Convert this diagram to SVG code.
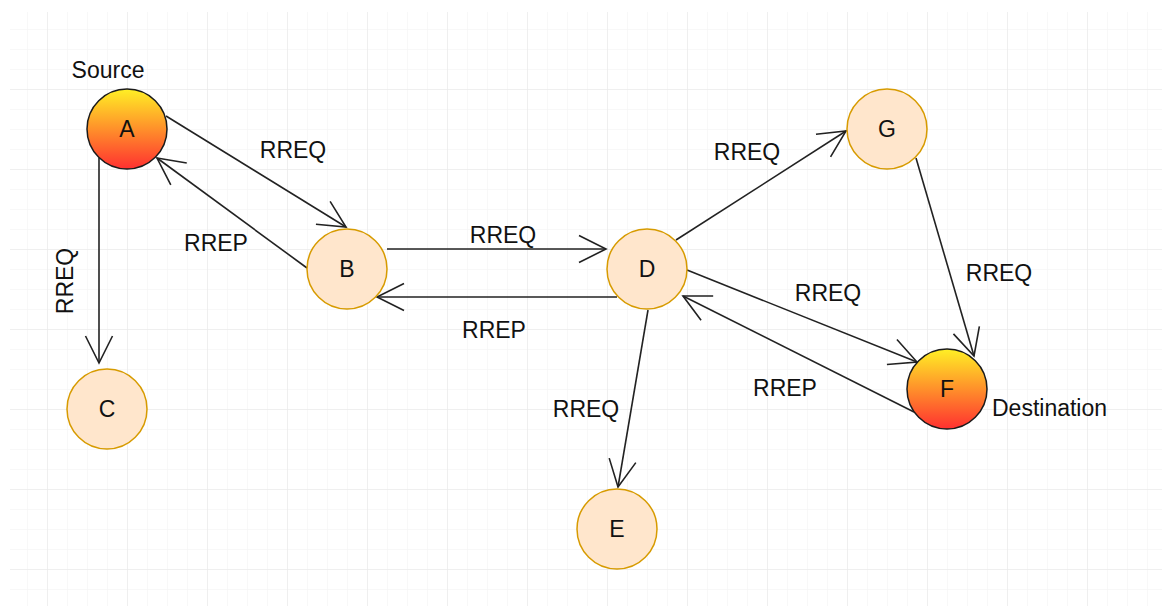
<svg xmlns="http://www.w3.org/2000/svg" width="1171" height="614" viewBox="0 0 1171 614">
  <defs>
    <pattern id="minor" x="7" y="9" width="20" height="20" patternUnits="userSpaceOnUse">
      <path d="M0,0 H20 M0,0 V20" fill="none" stroke="#f2f2f2" stroke-width="1"/>
    </pattern>
    <pattern id="major" x="47" y="9" width="80" height="80" patternUnits="userSpaceOnUse">
      <path d="M0,0 H80 M0,0 V80" fill="none" stroke="#e6e6e6" stroke-width="1"/>
    </pattern>
    <linearGradient id="hot" x1="0" y1="0" x2="0" y2="1">
      <stop offset="0" stop-color="#fff025"/>
      <stop offset="1" stop-color="#ff3030"/>
    </linearGradient>
    <marker id="open" viewBox="-30 -16 32 32" markerWidth="32" markerHeight="32" refX="0" refY="0" markerUnits="userSpaceOnUse" orient="auto">
      <path d="M-27,-13.5 L0,0 L-27,13.5" fill="none" stroke="#222" stroke-width="1.6"/>
    </marker>
    <style>
      .plain circle { fill: #ffe6cc; stroke: #d79b00; stroke-width: 1.5; }
      .hot circle { fill: url(#hot); stroke: #1a1a1a; stroke-width: 1.5; }
      text { font-family: "Liberation Sans", Arial, sans-serif; font-size: 23px; fill: #111; }
      .node text { text-anchor: middle; }
      .lbl { text-anchor: middle; }
      #edges line { stroke: #222; stroke-width: 1.6; marker-end: url(#open); }
    </style>
  </defs>

  <!-- canvas grid -->
  <rect x="0" y="0" width="1171" height="614" fill="#ffffff"/>
  <rect x="10" y="12" width="1152" height="594" fill="url(#minor)"/>
  <rect x="10" y="12" width="1152" height="594" fill="url(#major)"/>

  <!-- connectors -->
  <g id="edges">
    <line x1="166" y1="116" x2="346" y2="227"/>
    <line x1="307" y1="268" x2="157" y2="158"/>
    <line x1="99" y1="158" x2="99" y2="363"/>
    <line x1="387" y1="249" x2="606" y2="249"/>
    <line x1="617" y1="297" x2="377" y2="297"/>
    <line x1="676" y1="240" x2="846" y2="131"/>
    <line x1="916" y1="158" x2="974" y2="356"/>
    <line x1="687" y1="270" x2="917" y2="362"/>
    <line x1="914" y1="412" x2="683" y2="296"/>
    <line x1="648" y1="310" x2="618" y2="487"/>
  </g>

  <!-- connector labels -->
  <g id="edge-labels">
    <text class="lbl" x="293" y="158">RREQ</text>
    <text class="lbl" x="216" y="251">RREP</text>
    <text class="lbl" transform="translate(73,281) rotate(-90)">RREQ</text>
    <text class="lbl" x="503" y="243">RREQ</text>
    <text class="lbl" x="494" y="338">RREP</text>
    <text class="lbl" x="747" y="160">RREQ</text>
    <text class="lbl" x="999" y="281">RREQ</text>
    <text class="lbl" x="828" y="301">RREQ</text>
    <text class="lbl" x="785" y="396">RREP</text>
    <text class="lbl" x="586" y="417">RREQ</text>
  </g>

  <!-- nodes -->
  <g id="node-A" class="node hot">
    <circle cx="127" cy="129" r="40"/>
    <text x="127" y="137">A</text>
    <text x="108" y="78">Source</text>
  </g>
  <g id="node-B" class="node plain">
    <circle cx="347" cy="269" r="40"/>
    <text x="347" y="277">B</text>
  </g>
  <g id="node-C" class="node plain">
    <circle cx="107" cy="409" r="40"/>
    <text x="107" y="417">C</text>
  </g>
  <g id="node-D" class="node plain">
    <circle cx="647" cy="269" r="40"/>
    <text x="647" y="277">D</text>
  </g>
  <g id="node-E" class="node plain">
    <circle cx="617" cy="529" r="40"/>
    <text x="617" y="537">E</text>
  </g>
  <g id="node-G" class="node plain">
    <circle cx="887" cy="129" r="40"/>
    <text x="887" y="137">G</text>
  </g>
  <g id="node-F" class="node hot">
    <circle cx="947" cy="389" r="40"/>
    <text x="947" y="397">F</text>
    <text x="992" y="416" style="text-anchor:start">Destination</text>
  </g>
</svg>
